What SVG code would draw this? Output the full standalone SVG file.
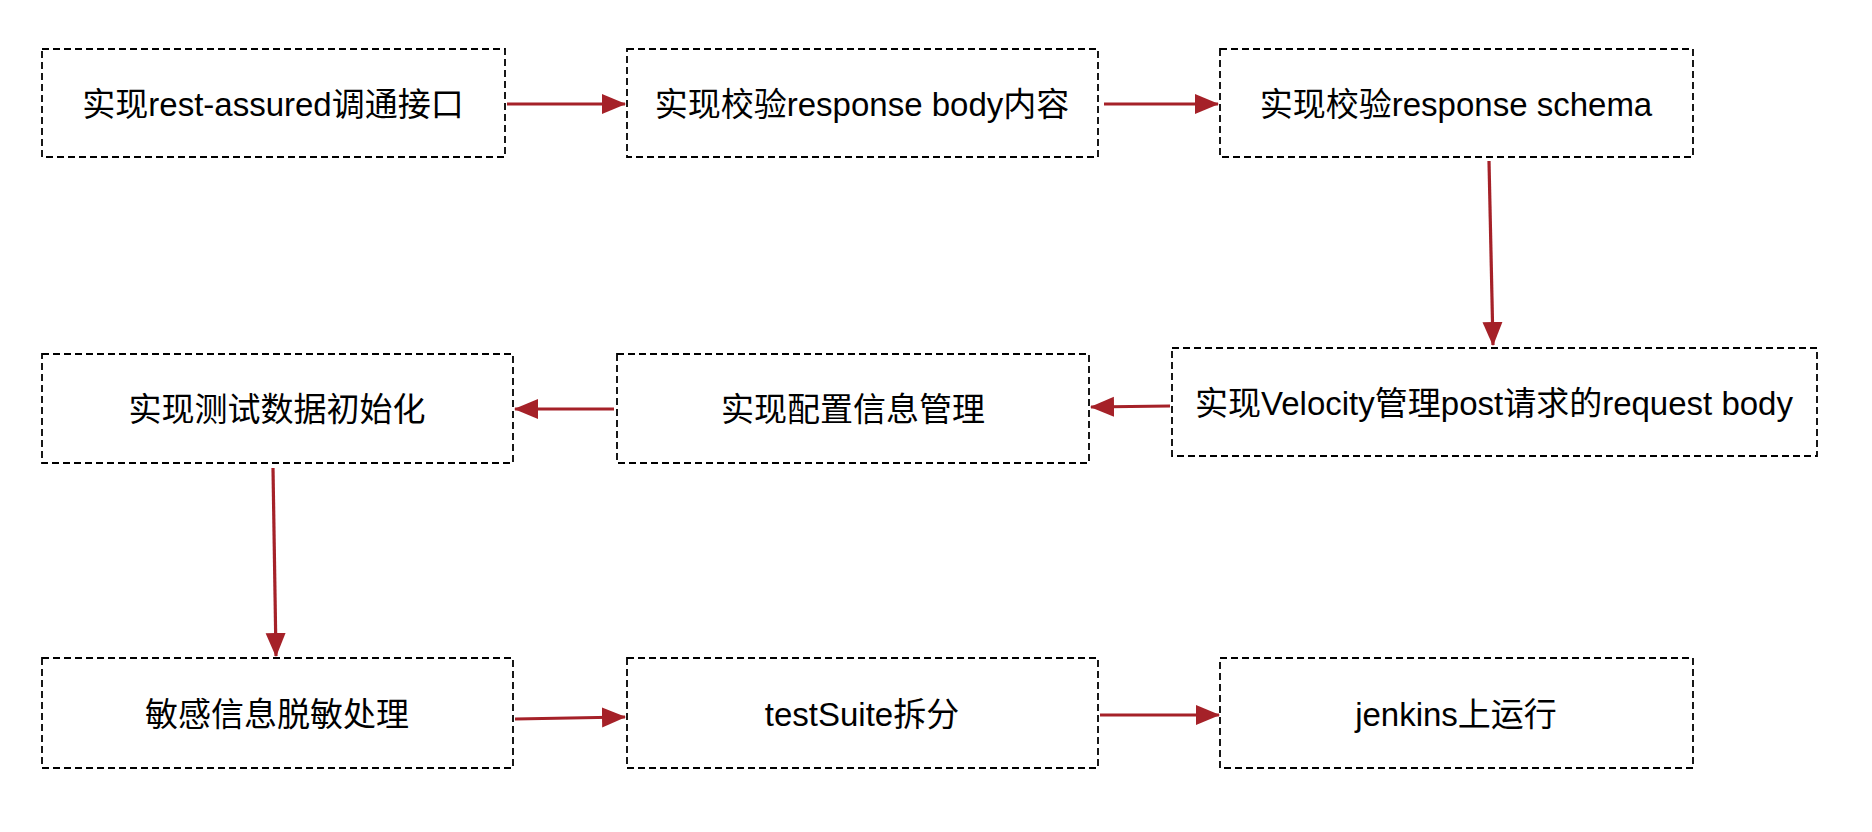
<svg xmlns="http://www.w3.org/2000/svg" width="1872" height="832" viewBox="0 0 1872 832">
<style>
.box{fill:#fff;stroke:#000;stroke-width:1.8;stroke-dasharray:7 4}
.lbl{font-family:"Liberation Sans","Noto Sans CJK SC",sans-serif;font-size:33px;fill:#000;text-anchor:middle;dominant-baseline:central}
.edge{fill:none;stroke:#a52128;stroke-width:3.2}
</style>
<defs>
<marker id="ah" markerWidth="26" markerHeight="22" refX="23" refY="10" orient="auto" markerUnits="userSpaceOnUse">
<path d="M0,0 L24,10 L0,20 Z" fill="#a52128"/>
</marker>
</defs>
<rect width="1872" height="832" fill="#fff"/>
<g id="connectors">
<path class="edge" d="M507,104 L625,104" marker-end="url(#ah)"/>
<path class="edge" d="M1104,104 L1218,104" marker-end="url(#ah)"/>
<path class="edge" d="M1489,161 L1493,345" marker-end="url(#ah)"/>
<path class="edge" d="M1170,406 L1091,407" marker-end="url(#ah)"/>
<path class="edge" d="M614,409 L515,409" marker-end="url(#ah)"/>
<path class="edge" d="M273,468 L276,656" marker-end="url(#ah)"/>
<path class="edge" d="M515,719 L625,717" marker-end="url(#ah)"/>
<path class="edge" d="M1100,715 L1219,715" marker-end="url(#ah)"/>
</g>
<g id="n1"><rect class="box" x="42" y="49" width="463" height="108"/><text class="lbl" x="273" y="104">实现rest-assured调通接口</text></g>
<g id="n2"><rect class="box" x="627" y="49" width="471" height="108"/><text class="lbl" x="862" y="104">实现校验response body内容</text></g>
<g id="n3"><rect class="box" x="1220" y="49" width="473" height="108"/><text class="lbl" x="1456" y="104">实现校验response schema</text></g>
<g id="n4"><rect class="box" x="42" y="354" width="471" height="109"/><text class="lbl" x="277" y="409">实现测试数据初始化</text></g>
<g id="n5"><rect class="box" x="617" y="354" width="472" height="109"/><text class="lbl" x="853" y="409">实现配置信息管理</text></g>
<g id="n6"><rect class="box" x="1172" y="348" width="645" height="108"/><text class="lbl" x="1494" y="403">实现Velocity管理post请求的request body</text></g>
<g id="n7"><rect class="box" x="42" y="658" width="471" height="110"/><text class="lbl" x="277" y="714">敏感信息脱敏处理</text></g>
<g id="n8"><rect class="box" x="627" y="658" width="471" height="110"/><text class="lbl" x="862" y="714">testSuite拆分</text></g>
<g id="n9"><rect class="box" x="1220" y="658" width="473" height="110"/><text class="lbl" x="1456" y="714">jenkins上运行</text></g>
</svg>
